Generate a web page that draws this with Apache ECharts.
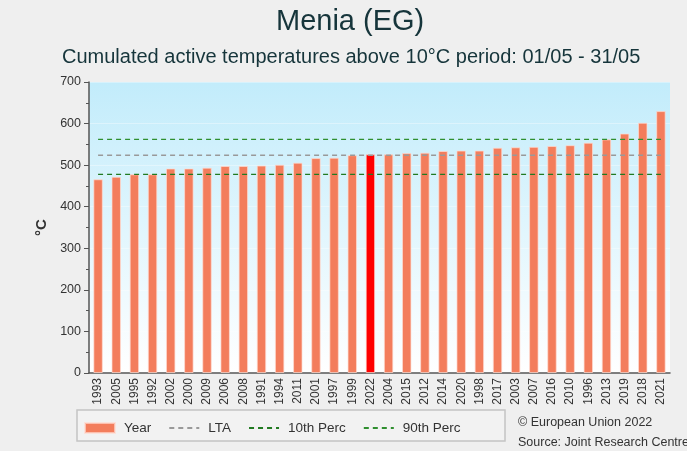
<!DOCTYPE html>
<html>
<head>
<meta charset="utf-8">
<script src="https://cdn.jsdelivr.net/npm/echarts@6/dist/echarts.min.js"></script>
<style>
  html, body { margin: 0; padding: 0; background: #efefef; }
  #chart { width: 687px; height: 451px; }
</style>
</head>
<body>
<div id="chart"></div>
<script>
// years sorted by value (as in the reference)
const years = ['1993', '2005', '1995', '1992', '2002', '2000', '2009', '2006', '2008', '1991',
  '1994', '2011', '2001', '1997', '1999', '2022', '2004', '2015', '2012', '2014', '2020',
  '1998', '2017', '2003', '2007', '2016', '2010', '1996', '2013', '2019', '2018', '2021']
const values = [466, 472, 478, 478, 492, 492, 494, 498, 498, 499,
  501, 506, 517, 518, 524, 526, 526, 529, 530, 534, 535,
  535, 542, 543, 544, 546, 548, 554, 562, 576, 602, 630]
const currentYear = '2022'
const lta = 524
const perc10 = 478
const perc90 = 562
const yTicks = [0, 100, 200, 300, 400, 500, 600, 700]

const barColor = '#f37d5c'
const font = 'Liberation Sans, Arial, sans-serif'

const chart = echarts.init(document.getElementById('chart'))

const flat = (v) => years.map(() => v)

const option = {
  backgroundColor: '#efefef',
  animation: false,
  textStyle: { fontFamily: font },
  title: [
    {
      text: 'Menia (EG)',
      left: 276,
      top: 7,
      padding: 0,
      textStyle: { fontSize: 29, fontWeight: 'normal', color: '#16353b', fontFamily: font }
    },
    {
      text: 'Cumulated active temperatures above 10°C period: 01/05 - 31/05',
      left: 62,
      top: 47,
      padding: 0,
      textStyle: { fontSize: 20, fontWeight: 'normal', color: '#16353b', fontFamily: font }
    }
  ],
  graphic: [
    {
      type: 'rect',
      shape: { x: 77, y: 410, width: 428, height: 31 },
      style: { fill: '#f2f2f2', stroke: '#c4c4c4', lineWidth: 1.5 },
      z: -1
    },
    {
      type: 'text',
      left: 518,
      top: 416,
      style: { text: '© European Union 2022', fontSize: 12.5, fill: '#333', fontFamily: font }
    },
    {
      type: 'text',
      left: 518,
      top: 436,
      style: { text: 'Source: Joint Research Centre', fontSize: 12.5, fill: '#333', fontFamily: font }
    }
  ],
  legend: {
    left: 84,
    top: 421,
    padding: 0,
    itemGap: 17,
    itemWidth: 30,
    itemHeight: 10,
    textStyle: { fontSize: 13.5, color: '#333', fontFamily: font, padding: [0, 0, 0, 4] },
    data: [
      { name: 'Year', icon: 'rect', itemStyle: { color: barColor } },
      { name: 'LTA', itemStyle: { opacity: 0 } },
      { name: '10th Perc', itemStyle: { opacity: 0 } },
      { name: '90th Perc', itemStyle: { opacity: 0 } }
    ]
  },
  grid: {
    left: 89,
    right: 17,
    top: 82,
    bottom: 78,
    show: true,
    borderWidth: 0,
    backgroundColor: new echarts.graphic.LinearGradient(0, 0, 0, 1, [
      { offset: 0, color: '#c2ecfb' },
      { offset: 1, color: '#ffffff' }
    ])
  },
  xAxis: {
    type: 'category',
    data: years,
    axisLine: { lineStyle: { color: '#555', width: 1.5 } },
    axisTick: { alignWithLabel: true, length: 4, lineStyle: { color: '#555' } },
    axisLabel: { rotate: 90, fontSize: 12, color: '#333', margin: 5, interval: 0 }
  },
  yAxis: {
    type: 'value',
    min: 0,
    max: 700,
    interval: 100,
    name: '°C',
    nameLocation: 'middle',
    nameGap: 34,
    nameTextStyle: { fontSize: 15, fontWeight: 'bold', color: '#333' },
    axisLine: { show: true, lineStyle: { color: '#555', width: 1.5 } },
    axisTick: { show: true, length: 5, lineStyle: { color: '#555' } },
    minorTick: { show: true, splitNumber: 2, length: 3, lineStyle: { color: '#555' } },
    axisLabel: {
      fontSize: 12.5,
      color: '#333',
      formatter: (v) => (yTicks.includes(v) ? String(v) : '')
    },
    splitLine: { show: true, lineStyle: { color: 'rgba(255,255,255,0.35)' } }
  },
  series: [
    {
      name: 'Year',
      type: 'bar',
      barWidth: '52%',
      data: values.map((v, i) => ({
        value: v,
        itemStyle: { color: years[i] === currentYear ? '#ff0000' : barColor }
      })),
      itemStyle: { borderColor: 'rgba(255,220,210,0.7)', borderWidth: 1 },
      z: 2
    },
    {
      name: 'LTA',
      type: 'line',
      data: flat(lta),
      symbol: 'none',
      lineStyle: { color: '#999999', width: 1.5, type: [5, 4] },
      itemStyle: { color: '#999999' },
      z: 3
    },
    {
      name: '10th Perc',
      type: 'line',
      data: flat(perc10),
      symbol: 'none',
      lineStyle: { color: '#217a21', width: 1.3, type: [5, 4] },
      itemStyle: { color: '#217a21' },
      z: 3
    },
    {
      name: '90th Perc',
      type: 'line',
      data: flat(perc90),
      symbol: 'none',
      lineStyle: { color: '#2f8f2f', width: 1.3, type: [5, 4] },
      itemStyle: { color: '#2f8f2f' },
      z: 3
    }
  ]
}

chart.setOption(option)
</script>
</body>
</html>
